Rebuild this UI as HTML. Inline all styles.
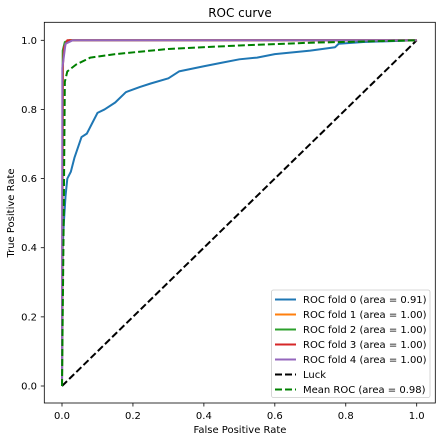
<!DOCTYPE html>
<html><head><meta charset="utf-8"><style>body{margin:0;background:#fff}svg{font-family:"DejaVu Sans","Liberation Sans",sans-serif}</style></head>
<body>
<svg id="chart" width="445" height="441" xmlns="http://www.w3.org/2000/svg"></svg>
<script>
const xTicks=[0,0.2,0.4,0.6,0.8,1.0];
const yTicks=[0,0.2,0.4,0.6,0.8,1.0];
const fold0X=[0,0.002,0.005,0.01,0.015,0.025,0.035,0.045,0.055,0.07,0.085,0.1,0.12,0.15,0.18,0.22,0.25,0.3,0.33,0.4,0.45,0.5,0.55,0.6,0.7,0.77,0.78,0.85,1];
const fold0Y=[0,0.4,0.47,0.55,0.6,0.62,0.66,0.69,0.72,0.73,0.76,0.79,0.8,0.82,0.85,0.865,0.875,0.89,0.91,0.925,0.935,0.945,0.95,0.96,0.97,0.98,0.99,0.995,1];
const fold1X=[0,0.003,0.01,0.02,1],fold1Y=[0,0.96,0.995,1,1];
const fold2X=[0,0.002,0.008,0.02,1],fold2Y=[0,0.97,0.995,1,1];
const fold3X=[0,0.002,0.006,0.015,1],fold3Y=[0,0.92,0.98,1,1];
const fold4X=[0,0.001,0.01,0.03,1],fold4Y=[0,0.92,0.99,1,1];
const meanX=[0,0.005,0.008,0.015,0.04,0.08,0.15,0.3,0.5,0.7,1];
const meanY=[0,0.5,0.88,0.91,0.93,0.95,0.96,0.975,0.985,0.993,1];
const legendLabels=["ROC fold 0 (area = 0.91)","ROC fold 1 (area = 1.00)","ROC fold 2 (area = 1.00)","ROC fold 3 (area = 1.00)","ROC fold 4 (area = 1.00)","Luck","Mean ROC (area = 0.98)"];
const sx=v=>62+v*354.7, sy=v=>386-v*345.7;
const svg=document.getElementById('chart');const NS="http://www.w3.org/2000/svg";
function mk(t,a,txt){const e=document.createElementNS(NS,t);for(const k in a)e.setAttribute(k,a[k]);if(txt!==undefined)e.textContent=txt;svg.appendChild(e);return e;}
let e=mk('text',{x:240,y:17,'text-anchor':'middle','font-size':12},'ROC curve');


xTicks.forEach(v=>{const l=mk('line',{x1:sx(v),x2:sx(v),y1:403,y2:406.5,stroke:'#000','stroke-width':0.8});


const t=mk('text',{x:sx(v),y:419,'text-anchor':'middle','font-size':10},v.toFixed(1));

});
yTicks.forEach(v=>{const l=mk('line',{x1:40.8,x2:44.3,y1:sy(v),y2:sy(v),stroke:'#000','stroke-width':0.8});


const t=mk('text',{x:37,y:sy(v)+3.5,'text-anchor':'end','font-size':10},v.toFixed(1));

});
e=mk('text',{x:240,y:433,'text-anchor':'middle','font-size':10},'False Positive Rate');


e=mk('text',{x:14,y:213,'text-anchor':'middle','font-size':10,transform:'rotate(-90 14 213)'},'True Positive Rate');


function line(xs,ys,c,dash,name){const p=mk('polyline',{points:xs.map((x,i)=>sx(x)+','+sy(ys[i])).join(' '),fill:'none',stroke:c,'stroke-width':2,'stroke-dasharray':dash||'none','stroke-linejoin':'round'});

}
line([0,1],[0,1],'#000','7,3','luck-line');
line(fold0X,fold0Y,'#1f77b4',null,'fold-0-curve');
line(fold1X,fold1Y,'#ff7f0e',null,'fold-1-curve');
line(fold2X,fold2Y,'#2ca02c',null,'fold-2-curve');
line(fold3X,fold3Y,'#d62728',null,'fold-3-curve');
line(fold4X,fold4Y,'#9467bd',null,'fold-4-curve');
line(meanX,meanY,'#008000','7,3','mean-roc-curve');
e=mk('rect',{x:44.3,y:22.3,width:391,height:380.7,fill:'none',stroke:'#000','stroke-width':0.8});


e=mk('rect',{x:271.5,y:290,width:158.5,height:107.5,fill:'#fff','fill-opacity':0.8,stroke:'#ccc','stroke-width':0.8,rx:2});


const lc=['#1f77b4','#ff7f0e','#2ca02c','#d62728','#9467bd','#000','#008000'];
legendLabels.forEach((s,i)=>{const y=299.5+i*15;const d=i>=5?'7,3':'none';
const l=mk('line',{x1:275,x2:296,y1:y,y2:y,stroke:lc[i],'stroke-width':2,'stroke-dasharray':d});


const t=mk('text',{x:303,y:y+3.5,'font-size':10},s);

});
</script>
</body></html>
